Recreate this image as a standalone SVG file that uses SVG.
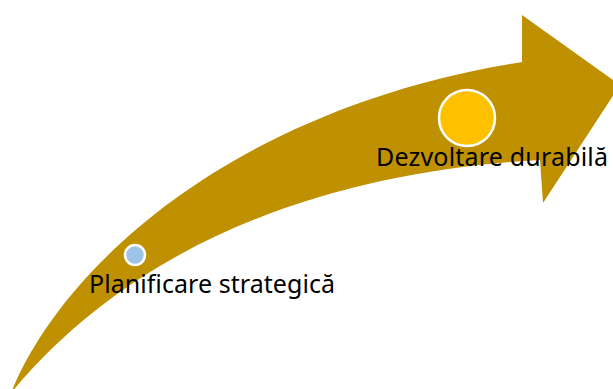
<svg xmlns="http://www.w3.org/2000/svg" width="613" height="389" viewBox="0 0 613 389">
<style>
.arrow{fill:#BF9000;stroke:none}
.dot{stroke:#FFFFFF;stroke-width:2.5}
.lbl{font-family:"Noto Sans","Open Sans",sans-serif;font-size:25px;fill:#000000}
</style>
<rect width="613" height="389" fill="#FFFFFF"/>
<g id="connectors">
<path class="arrow" d="M11,393 C60,270 230,108 522,62 L522,15 L620,85 L543,203 L540,160 C360,170 150,225 11,393 Z"/>
</g>
<g id="node-planificare">
<circle class="dot" cx="135" cy="255" r="10" fill="#9DC3E6"/>
<text class="lbl" x="89" y="293" textLength="246" lengthAdjust="spacing">Planificare strategică</text>
</g>
<g id="node-dezvoltare">
<circle class="dot" cx="467" cy="118" r="28" fill="#FFC000"/>
<text class="lbl" x="376" y="166" textLength="232" lengthAdjust="spacing">Dezvoltare durabilă</text>
</g>
</svg>
